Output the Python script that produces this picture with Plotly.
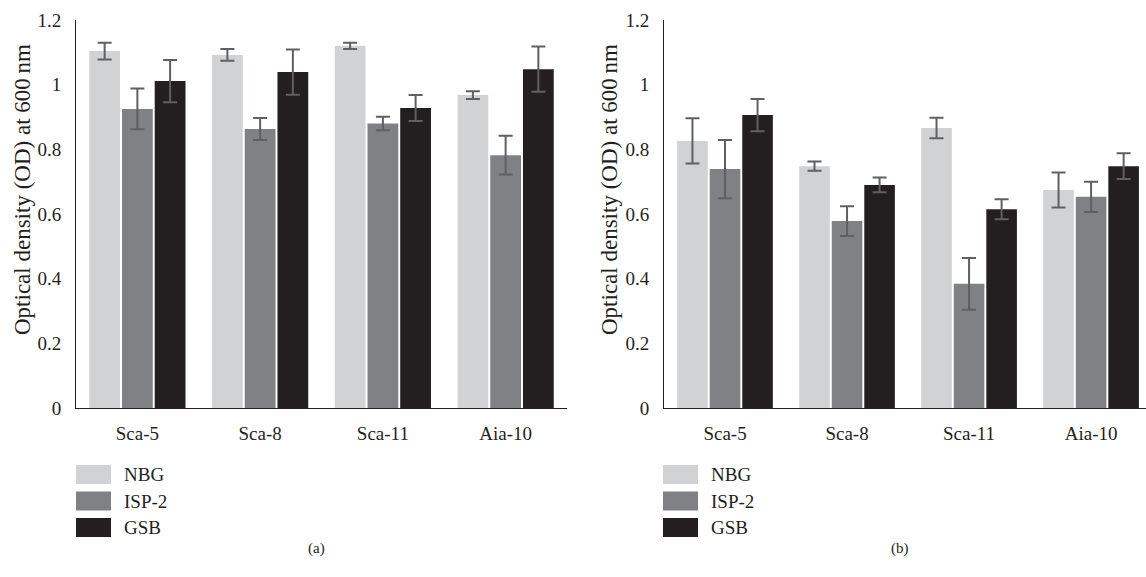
import plotly.graph_objects as go

strains = ["Sca-5", "Sca-8", "Sca-11", "Aia-10"]
media = ["NBG", "ISP-2", "GSB"]
colors = ["#d1d2d4", "#808184", "#231f20"]

# Panel (a)
a_nbg = [1.104, 1.092, 1.120, 0.968]
a_nbg_err = [0.026, 0.018, 0.010, 0.012]
a_isp = [0.925, 0.863, 0.880, 0.782]
a_isp_err = [0.063, 0.034, 0.021, 0.060]
a_gsb = [1.011, 1.039, 0.928, 1.048]
a_gsb_err = [0.065, 0.070, 0.040, 0.070]

# Panel (b)
b_nbg = [0.826, 0.748, 0.866, 0.674]
b_nbg_err = [0.070, 0.014, 0.032, 0.054]
b_isp = [0.739, 0.578, 0.384, 0.653]
b_isp_err = [0.090, 0.046, 0.080, 0.047]
b_gsb = [0.906, 0.690, 0.615, 0.748]
b_gsb_err = [0.050, 0.023, 0.031, 0.040]

y_ticks = [0, 0.2, 0.4, 0.6, 0.8, 1, 1.2]
y_ticktext = ["0", "0.2", "0.4", "0.6", "0.8", "1", "1.2"]
y_title = "Optical density (OD) at 600\u2009nm"
FONT = "Liberation Serif"
INK = "#231f20"

W, H = 1146, 577

fig = go.Figure()
panels = [
    ("x", "y", [a_nbg, a_isp, a_gsb], [a_nbg_err, a_isp_err, a_gsb_err]),
    ("x2", "y2", [b_nbg, b_isp, b_gsb], [b_nbg_err, b_isp_err, b_gsb_err]),
]
for xa, ya, vals, errs in panels:
    for name, col, v, e in zip(media, colors, vals, errs):
        fig.add_trace(go.Bar(
            x=strains, y=v, name=name, marker=dict(color=col, line=dict(width=0)),
            error_y=dict(type="data", array=e, visible=True, color="#5f6062",
                         thickness=2, width=7),
            xaxis=xa, yaxis=ya, showlegend=False,
        ))

ybot = (H - 408) / H
ytop = (H - 20) / H
axis_common = dict(showline=True, linecolor=INK, linewidth=1, showgrid=False,
                   zeroline=False, ticks="", automargin=False,
                   tickfont=dict(family=FONT, size=19, color=INK))
fig.update_layout(
    template="none",
    width=W, height=H,
    margin=dict(l=0, r=0, t=0, b=0),
    paper_bgcolor="white", plot_bgcolor="white",
    barmode="group", bargap=0.2, bargroupgap=0.06,
    font=dict(family=FONT, size=19, color=INK),
    xaxis=dict(domain=[76 / W, 567 / W], range=[-0.5, 3.5], anchor="y",
               ticklabelstandoff=8, **axis_common),
    yaxis=dict(domain=[ybot, ytop], range=[0, 1.2], tickvals=y_ticks, ticktext=y_ticktext,
               anchor="x", ticklabelstandoff=10, **axis_common),
    xaxis2=dict(domain=[664 / W, 1.0], range=[-0.5, 3.45], anchor="y2",
                ticklabelstandoff=8, **axis_common),
    yaxis2=dict(domain=[ybot, ytop], range=[0, 1.2], tickvals=y_ticks, ticktext=y_ticktext,
                anchor="x2", ticklabelstandoff=10, **axis_common),
)

# Y-axis titles (positioned as in the original, slightly above the axis centre)
for tx in (22, 609):
    fig.add_annotation(xref="paper", yref="paper", x=tx / W, y=(H - 190) / H,
                       text=y_title, textangle=-90, showarrow=False,
                       xanchor="center", yanchor="middle",
                       font=dict(family=FONT, size=23, color=INK))

# Legends (one per panel) and captions
for x0 in (76, 663):
    for i, (name, col) in enumerate(zip(media, colors)):
        y0 = 465 + i * 26.5
        fig.add_shape(type="rect", xref="paper", yref="paper",
                      x0=x0 / W, x1=(x0 + 35) / W,
                      y0=(H - y0 - 19) / H, y1=(H - y0) / H,
                      fillcolor=col, line=dict(width=0))
        fig.add_annotation(xref="paper", yref="paper", x=(x0 + 46) / W,
                           y=(H - y0 - 9.5) / H, text=name, showarrow=False,
                           xanchor="left", yanchor="middle",
                           font=dict(family=FONT, size=19, color=INK))

for cx, lab in ((316, "(a)"), (900, "(b)")):
    fig.add_annotation(xref="paper", yref="paper", x=cx / W, y=(H - 548) / H,
                       text=lab, showarrow=False, xanchor="center", yanchor="middle",
                       font=dict(family=FONT, size=15, color=INK))

fig.write_html("out.html", config={"displayModeBar": False},
               post_script="document.body.style.margin='0';")
